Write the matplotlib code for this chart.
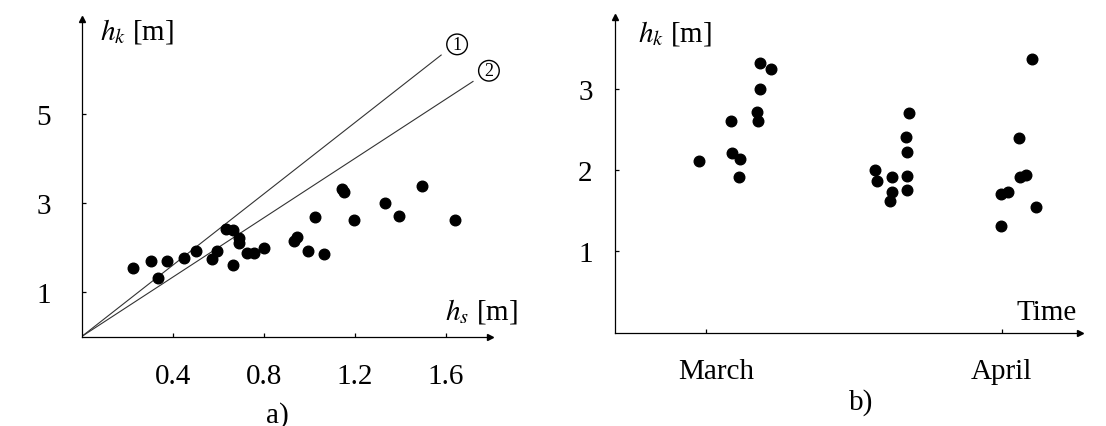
import matplotlib.pyplot as plt
import matplotlib.transforms as mtransforms

plt.rcParams['font.family'] = ['Liberation Serif', 'DejaVu Serif']
plt.rcParams['mathtext.fontset'] = 'stix'

# a) peak height h_k against significant height h_s
hs = [0.225, 0.303, 0.376, 0.335, 0.450, 0.504, 0.573, 0.593, 0.634, 0.664,
      0.693, 0.693, 0.665, 0.727, 0.757, 0.803, 0.933, 0.945, 0.993, 1.024,
      1.064, 1.143, 1.154, 1.197, 1.333, 1.393, 1.495, 1.641]
hk_a = [1.53, 1.70, 1.70, 1.31, 1.76, 1.93, 1.73, 1.91, 2.42, 2.39,
        2.21, 2.09, 1.61, 1.88, 1.88, 1.99, 2.14, 2.23, 1.91, 2.68,
        1.85, 3.31, 3.24, 2.62, 3.00, 2.71, 3.37, 2.62]

# reference lines h_k = c * h_s
line_ends = [1.58, 1.72]
line_slopes = [4.0, 3.33]
line_names = ['1', '2']

# b) h_k over time, days counted from the start of March
days = [-0.7, 2.65, 2.79, 3.63, 3.52, 5.69, 6.81, 5.72, 5.41, 5.48,
        17.76, 17.90, 19.51, 19.51, 19.27, 21.29, 20.97, 21.05, 21.05, 21.05,
        30.95, 31.69, 30.92, 32.81, 32.91, 33.51, 34.14, 34.56]
hk_b = [2.11, 2.61, 2.21, 2.14, 1.92, 3.32, 3.24, 3.00, 2.72, 2.61,
        2.00, 1.86, 1.92, 1.73, 1.62, 2.70, 2.41, 2.22, 1.93, 1.76,
        1.71, 1.73, 1.31, 2.40, 1.92, 1.94, 3.37, 1.54]
month_days = [0, 31]
month_names = ['March', 'April']

fig = plt.figure(figsize=(11.06, 4.27), dpi=100)
ax1 = fig.add_axes([0.0739, 0.2096, 0.3692, 0.7436])
ax2 = fig.add_axes([0.556, 0.2187, 0.4204, 0.7384])


def arrow_axes(ax):
    for side in ['top', 'right']:
        ax.spines[side].set_visible(False)
    for side in ['left', 'bottom']:
        ax.spines[side].set_linewidth(0.9)
    ax.plot(1, 0, '>k', ms=5, transform=ax.transAxes, clip_on=False)
    ax.plot(0, 1, '^k', ms=5, transform=ax.transAxes, clip_on=False)
    ax.tick_params(direction='in', length=3, width=0.9, labelsize=21)
    ax.tick_params(axis='y', pad=22)
    ax.tick_params(axis='x', pad=19)


# panel a
arrow_axes(ax1)
ax1.set_xlim(0, 1.795)
ax1.set_ylim(0, 7.13)
ax1.set_xticks([0.4, 0.8, 1.2, 1.6])
ax1.set_yticks([1, 3, 5])
for x_end, k, name in zip(line_ends, line_slopes, line_names):
    ax1.plot([0, x_end], [0, k * x_end], color='#333333', lw=0.8)
    ax1.text(x_end + 0.07, k * x_end + 0.24, name, fontsize=13,
             ha='center', va='center',
             bbox=dict(boxstyle='circle,pad=0.1', fc='white', ec='black', lw=1.0))
ax1.scatter(hs, hk_a, s=58, color='black', zorder=3, clip_on=False)

# panel b
arrow_axes(ax2)
ax2.set_xlim(-9.5, 39.2)
ax2.set_ylim(0, 3.88)
ax2.set_xticks(month_days)
ax2.set_xticklabels(month_names)
ax2.set_yticks([1, 2, 3])
ax2.tick_params(axis='y', pad=16)
ax2.tick_params(axis='x', pad=18)
# "March" sits a little right of its tick
march_label = ax2.get_xticklabels()[0]
march_label.set_transform(march_label.get_transform() +
                          mtransforms.ScaledTranslation(0.11, 0, fig.dpi_scale_trans))
ax2.scatter(days, hk_b, s=58, color='black', zorder=3, clip_on=False)

fig.text(0.1236, 0.9258, '$h_k$ [m]', fontsize=21, ha='center', va='center')
fig.text(0.4355, 0.270, '$h_s$ [m]', fontsize=21, ha='center', va='center')
fig.text(0.2511, 0.028, 'a)', fontsize=21, ha='center', va='center')
fig.text(0.6103, 0.9227, '$h_k$ [m]', fontsize=21, ha='center', va='center')
fig.text(0.9464, 0.2663, 'Time', fontsize=21, ha='center', va='center')
fig.text(0.779, 0.0562, 'b)', fontsize=21, ha='center', va='center')

fig.savefig('out.png', dpi=100)
